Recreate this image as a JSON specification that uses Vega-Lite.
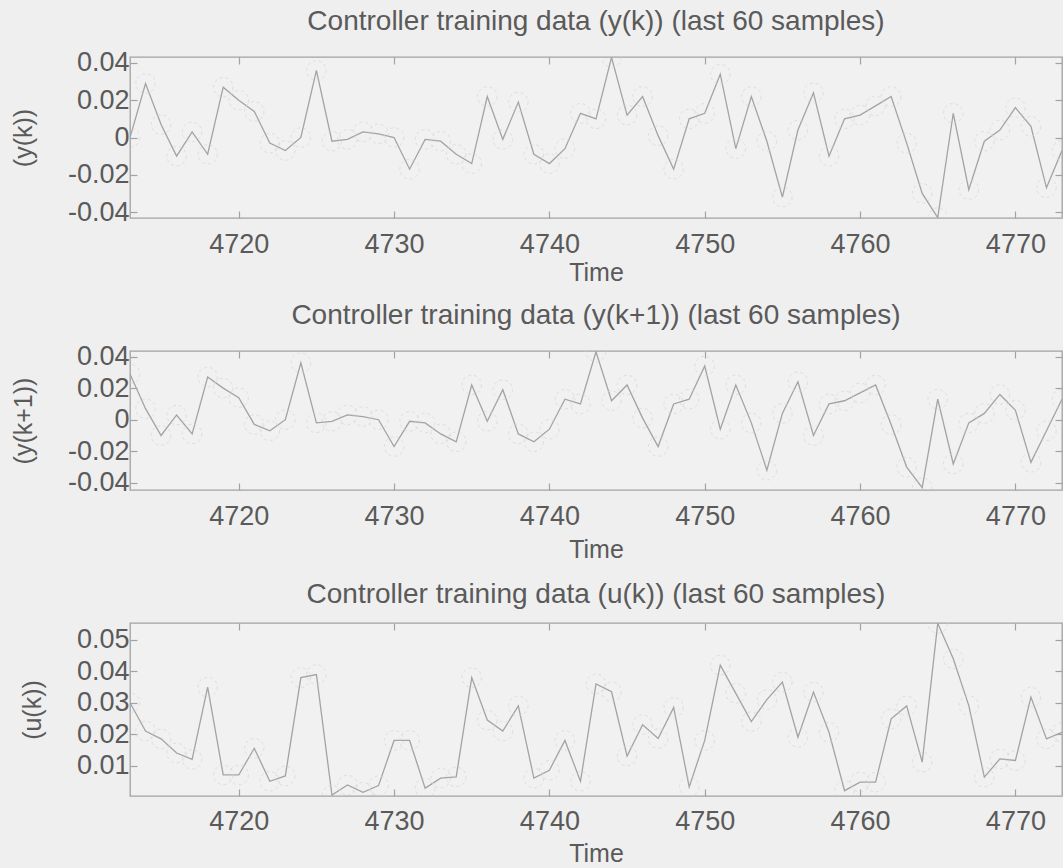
{
  "$schema": "https://vega.github.io/schema/vega-lite/v6.json",
  "background": "#efefef",
  "padding": {"left": 10, "top": 7, "right": 0, "bottom": 2},
  "config": {
    "font": "Liberation Sans",
    "view": {"stroke": "#a2a2a2", "strokeWidth": 1.3, "fill": "#f1f1f1"},
    "title": {"fontSize": 28, "fontWeight": "normal", "color": "#5a5a5a", "offset": 13, "font": "Liberation Sans"},
    "axis": {
      "domain": false, "grid": false,
      "labelFontSize": 27, "labelColor": "#5a5a5a", "labelFont": "Liberation Sans",
      "titleFontSize": 25, "titleColor": "#5a5a5a", "titleFont": "Liberation Sans", "titleFontWeight": "normal",
      "tickColor": "#a2a2a2", "tickSize": -7, "tickWidth": 1.2
    }
  },
  "spacing": 133,
  "bounds": "flush",
  "datasets": {
    "yk": [
      {"t": 4713, "v": 0.000}, {"t": 4714, "v": 0.029}, {"t": 4715, "v": 0.007}, {"t": 4716, "v": -0.010},
      {"t": 4717, "v": 0.003}, {"t": 4718, "v": -0.009}, {"t": 4719, "v": 0.027}, {"t": 4720, "v": 0.020},
      {"t": 4721, "v": 0.014}, {"t": 4722, "v": -0.003}, {"t": 4723, "v": -0.007}, {"t": 4724, "v": 0.000},
      {"t": 4725, "v": 0.036}, {"t": 4726, "v": -0.002}, {"t": 4727, "v": -0.001}, {"t": 4728, "v": 0.003},
      {"t": 4729, "v": 0.002}, {"t": 4730, "v": 0.000}, {"t": 4731, "v": -0.017}, {"t": 4732, "v": -0.001},
      {"t": 4733, "v": -0.002}, {"t": 4734, "v": -0.009}, {"t": 4735, "v": -0.014}, {"t": 4736, "v": 0.022},
      {"t": 4737, "v": -0.001}, {"t": 4738, "v": 0.019}, {"t": 4739, "v": -0.009}, {"t": 4740, "v": -0.014},
      {"t": 4741, "v": -0.006}, {"t": 4742, "v": 0.013}, {"t": 4743, "v": 0.010}, {"t": 4744, "v": 0.043},
      {"t": 4745, "v": 0.012}, {"t": 4746, "v": 0.022}, {"t": 4747, "v": 0.001}, {"t": 4748, "v": -0.017},
      {"t": 4749, "v": 0.010}, {"t": 4750, "v": 0.013}, {"t": 4751, "v": 0.034}, {"t": 4752, "v": -0.006},
      {"t": 4753, "v": 0.022}, {"t": 4754, "v": -0.002}, {"t": 4755, "v": -0.032}, {"t": 4756, "v": 0.004},
      {"t": 4757, "v": 0.024}, {"t": 4758, "v": -0.010}, {"t": 4759, "v": 0.010}, {"t": 4760, "v": 0.012},
      {"t": 4761, "v": 0.017}, {"t": 4762, "v": 0.022}, {"t": 4763, "v": -0.003}, {"t": 4764, "v": -0.030},
      {"t": 4765, "v": -0.043}, {"t": 4766, "v": 0.013}, {"t": 4767, "v": -0.028}, {"t": 4768, "v": -0.002},
      {"t": 4769, "v": 0.004}, {"t": 4770, "v": 0.016}, {"t": 4771, "v": 0.006}, {"t": 4772, "v": -0.027},
      {"t": 4773, "v": -0.007}
    ],
    "yk1": [
      {"t": 4713, "v": 0.029}, {"t": 4714, "v": 0.007}, {"t": 4715, "v": -0.010}, {"t": 4716, "v": 0.003},
      {"t": 4717, "v": -0.009}, {"t": 4718, "v": 0.027}, {"t": 4719, "v": 0.020}, {"t": 4720, "v": 0.014},
      {"t": 4721, "v": -0.003}, {"t": 4722, "v": -0.007}, {"t": 4723, "v": 0.000}, {"t": 4724, "v": 0.036},
      {"t": 4725, "v": -0.002}, {"t": 4726, "v": -0.001}, {"t": 4727, "v": 0.003}, {"t": 4728, "v": 0.002},
      {"t": 4729, "v": 0.000}, {"t": 4730, "v": -0.017}, {"t": 4731, "v": -0.001}, {"t": 4732, "v": -0.002},
      {"t": 4733, "v": -0.009}, {"t": 4734, "v": -0.014}, {"t": 4735, "v": 0.022}, {"t": 4736, "v": -0.001},
      {"t": 4737, "v": 0.019}, {"t": 4738, "v": -0.009}, {"t": 4739, "v": -0.014}, {"t": 4740, "v": -0.006},
      {"t": 4741, "v": 0.013}, {"t": 4742, "v": 0.010}, {"t": 4743, "v": 0.043}, {"t": 4744, "v": 0.012},
      {"t": 4745, "v": 0.022}, {"t": 4746, "v": 0.001}, {"t": 4747, "v": -0.017}, {"t": 4748, "v": 0.010},
      {"t": 4749, "v": 0.013}, {"t": 4750, "v": 0.034}, {"t": 4751, "v": -0.006}, {"t": 4752, "v": 0.022},
      {"t": 4753, "v": -0.002}, {"t": 4754, "v": -0.032}, {"t": 4755, "v": 0.004}, {"t": 4756, "v": 0.024},
      {"t": 4757, "v": -0.010}, {"t": 4758, "v": 0.010}, {"t": 4759, "v": 0.012}, {"t": 4760, "v": 0.017},
      {"t": 4761, "v": 0.022}, {"t": 4762, "v": -0.003}, {"t": 4763, "v": -0.030}, {"t": 4764, "v": -0.043},
      {"t": 4765, "v": 0.013}, {"t": 4766, "v": -0.028}, {"t": 4767, "v": -0.002}, {"t": 4768, "v": 0.004},
      {"t": 4769, "v": 0.016}, {"t": 4770, "v": 0.006}, {"t": 4771, "v": -0.027}, {"t": 4772, "v": -0.007},
      {"t": 4773, "v": 0.013}
    ],
    "uk": [
      {"t": 4713, "v": 0.0300}, {"t": 4714, "v": 0.0210}, {"t": 4715, "v": 0.0185}, {"t": 4716, "v": 0.0140},
      {"t": 4717, "v": 0.0120}, {"t": 4718, "v": 0.0350}, {"t": 4719, "v": 0.0070}, {"t": 4720, "v": 0.0070},
      {"t": 4721, "v": 0.0155}, {"t": 4722, "v": 0.0050}, {"t": 4723, "v": 0.0067}, {"t": 4724, "v": 0.0380},
      {"t": 4725, "v": 0.0390}, {"t": 4726, "v": 0.0006}, {"t": 4727, "v": 0.0038}, {"t": 4728, "v": 0.0015},
      {"t": 4729, "v": 0.0036}, {"t": 4730, "v": 0.0180}, {"t": 4731, "v": 0.0180}, {"t": 4732, "v": 0.0028},
      {"t": 4733, "v": 0.0060}, {"t": 4734, "v": 0.0064}, {"t": 4735, "v": 0.0380}, {"t": 4736, "v": 0.0245},
      {"t": 4737, "v": 0.0210}, {"t": 4738, "v": 0.0290}, {"t": 4739, "v": 0.0060}, {"t": 4740, "v": 0.0085},
      {"t": 4741, "v": 0.0180}, {"t": 4742, "v": 0.0050}, {"t": 4743, "v": 0.0360}, {"t": 4744, "v": 0.0335},
      {"t": 4745, "v": 0.0130}, {"t": 4746, "v": 0.0230}, {"t": 4747, "v": 0.0186}, {"t": 4748, "v": 0.0285},
      {"t": 4749, "v": 0.0032}, {"t": 4750, "v": 0.0180}, {"t": 4751, "v": 0.0420}, {"t": 4752, "v": 0.0330},
      {"t": 4753, "v": 0.0240}, {"t": 4754, "v": 0.0310}, {"t": 4755, "v": 0.0366}, {"t": 4756, "v": 0.0190},
      {"t": 4757, "v": 0.0334}, {"t": 4758, "v": 0.0206}, {"t": 4759, "v": 0.0020}, {"t": 4760, "v": 0.0047},
      {"t": 4761, "v": 0.0047}, {"t": 4762, "v": 0.0249}, {"t": 4763, "v": 0.0290}, {"t": 4764, "v": 0.0111},
      {"t": 4765, "v": 0.0553}, {"t": 4766, "v": 0.0440}, {"t": 4767, "v": 0.0291}, {"t": 4768, "v": 0.0063},
      {"t": 4769, "v": 0.0121}, {"t": 4770, "v": 0.0116}, {"t": 4771, "v": 0.0318}, {"t": 4772, "v": 0.0185},
      {"t": 4773, "v": 0.0206}
    ]
  },
  "vconcat": [
    {
      "width": 932, "height": 161,
      "title": "Controller training data (y(k)) (last 60 samples)",
      "data": {"name": "yk"},
      "layer": [
        {
          "mark": {"type": "line", "color": "#a3a3a3", "strokeWidth": 1.3, "clip": true},
          "encoding": {
            "x": {"field": "t", "type": "quantitative", "scale": {"domain": [4713, 4773], "nice": false, "zero": false},
                  "axis": {"orient": "bottom", "values": [4720, 4730, 4740, 4750, 4760, 4770], "format": "d", "labelPadding": 20, "title": "Time", "titlePadding": 3}},
            "y": {"field": "v", "type": "quantitative", "scale": {"domain": [-0.0432, 0.0432], "nice": false, "zero": false},
                  "axis": {"orient": "left", "values": [-0.04, -0.02, 0, 0.02, 0.04], "labelExpr": "datum.value == 0 ? '0' : replace(format(datum.value, '.2f'), '\u2212', '-')", "labelPadding": 8, "title": "(y(k))", "titlePadding": 31}}
          }
        },
        {
          "mark": {"type": "point", "shape": "circle", "size": 380, "filled": false, "stroke": "#d6d6d6", "strokeWidth": 1, "strokeDash": [3, 3], "clip": true},
          "encoding": {
            "x": {"field": "t", "type": "quantitative", "axis": {"orient": "top", "values": [4720, 4730, 4740, 4750, 4760, 4770], "labels": false, "title": null}},
            "y": {"field": "v", "type": "quantitative", "axis": {"orient": "right", "values": [-0.04, -0.02, 0, 0.02, 0.04], "labels": false, "title": null}}
          }
        }
      ],
      "resolve": {"axis": {"x": "independent", "y": "independent"}}
    },
    {
      "width": 932, "height": 139,
      "title": "Controller training data (y(k+1)) (last 60 samples)",
      "data": {"name": "yk1"},
      "layer": [
        {
          "mark": {"type": "line", "color": "#a3a3a3", "strokeWidth": 1.3, "clip": true},
          "encoding": {
            "x": {"field": "t", "type": "quantitative", "scale": {"domain": [4713, 4773], "nice": false, "zero": false},
                  "axis": {"orient": "bottom", "values": [4720, 4730, 4740, 4750, 4760, 4770], "format": "d", "labelPadding": 20, "title": "Time", "titlePadding": 8}},
            "y": {"field": "v", "type": "quantitative", "scale": {"domain": [-0.0445, 0.0435], "nice": false, "zero": false},
                  "axis": {"orient": "left", "values": [-0.04, -0.02, 0, 0.02, 0.04], "labelExpr": "datum.value == 0 ? '0' : replace(format(datum.value, '.2f'), '\u2212', '-')", "labelPadding": 8, "title": "(y(k+1))", "titlePadding": 31}}
          }
        },
        {
          "mark": {"type": "point", "shape": "circle", "size": 380, "filled": false, "stroke": "#d6d6d6", "strokeWidth": 1, "strokeDash": [3, 3], "clip": true},
          "encoding": {
            "x": {"field": "t", "type": "quantitative", "axis": {"orient": "top", "values": [4720, 4730, 4740, 4750, 4760, 4770], "labels": false, "title": null}},
            "y": {"field": "v", "type": "quantitative", "axis": {"orient": "right", "values": [-0.04, -0.02, 0, 0.02, 0.04], "labels": false, "title": null}}
          }
        }
      ],
      "resolve": {"axis": {"x": "independent", "y": "independent"}}
    },
    {
      "width": 932, "height": 173,
      "title": "Controller training data (u(k)) (last 60 samples)",
      "data": {"name": "uk"},
      "layer": [
        {
          "mark": {"type": "line", "color": "#a3a3a3", "strokeWidth": 1.3, "clip": true},
          "encoding": {
            "x": {"field": "t", "type": "quantitative", "scale": {"domain": [4713, 4773], "nice": false, "zero": false},
                  "axis": {"orient": "bottom", "values": [4720, 4730, 4740, 4750, 4760, 4770], "format": "d", "labelPadding": 19, "title": "Time", "titlePadding": 7}},
            "y": {"field": "v", "type": "quantitative", "scale": {"domain": [0.0003, 0.0554], "nice": false, "zero": false},
                  "axis": {"orient": "left", "values": [0.01, 0.02, 0.03, 0.04, 0.05], "format": ".2f", "labelPadding": 8, "title": "(u(k))", "titlePadding": 31}}
          }
        },
        {
          "mark": {"type": "point", "shape": "circle", "size": 380, "filled": false, "stroke": "#d6d6d6", "strokeWidth": 1, "strokeDash": [3, 3], "clip": true},
          "encoding": {
            "x": {"field": "t", "type": "quantitative", "axis": {"orient": "top", "values": [4720, 4730, 4740, 4750, 4760, 4770], "labels": false, "title": null}},
            "y": {"field": "v", "type": "quantitative", "axis": {"orient": "right", "values": [0.01, 0.02, 0.03, 0.04, 0.05], "labels": false, "title": null}}
          }
        }
      ],
      "resolve": {"axis": {"x": "independent", "y": "independent"}}
    }
  ]
}
